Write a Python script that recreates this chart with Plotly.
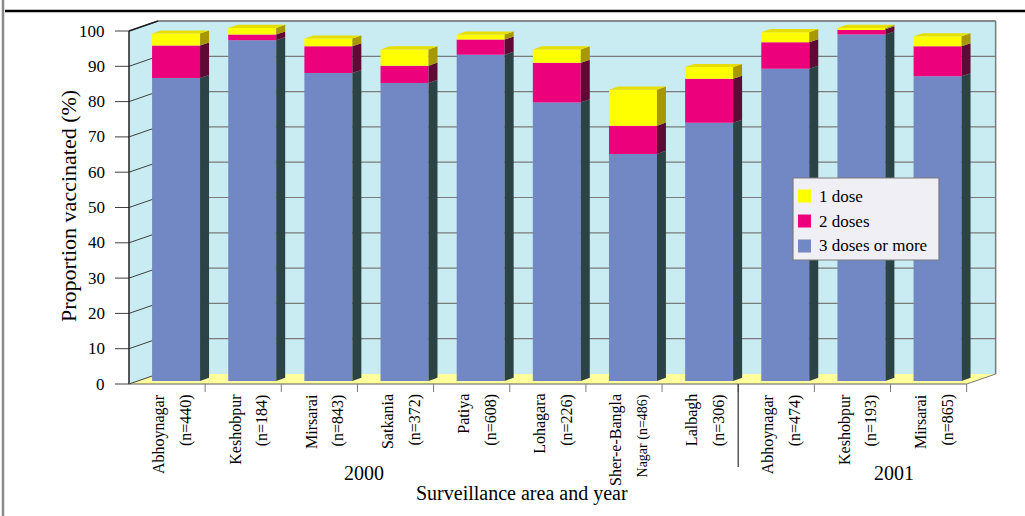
import plotly.graph_objects as go

# ---- data -------------------------------------------------------------
area_names = ["Abhoynagar", "Keshobpur", "Mirsarai", "Satkania", "Patiya", "Lohagara",
              "Sher-e-Bangla", "Lalbagh", "Abhoynagar", "Keshobpur", "Mirsarai"]
area_sizes = ["(n=440)", "(n=184)", "(n=843)", "(n=372)", "(n=608)", "(n=226)",
              "Nagar (n=486)", "(n=306)", "(n=474)", "(n=193)", "(n=865)"]
years = ["2000", "2001"]
year_counts = [8, 3]

dose3 = [85.8, 96.5, 87.2, 84.4, 92.4, 78.9, 64.3, 73.1, 88.4, 98.1, 86.3]
dose2 = [9.2, 1.6, 7.6, 4.9, 4.3, 11.2, 8.0, 12.5, 7.5, 1.5, 8.5]
dose1 = [3.4, 1.9, 2.2, 4.6, 1.4, 3.8, 10.2, 3.3, 2.9, 0.4, 2.8]

series_names = ["1 dose", "2 doses", "3 doses or more"]
y_ticks = list(range(0, 101, 10))

# ---- styling ------------------------------------------------------------
FONT = "Liberation Serif"
C_BLUE, C_BLUE_SIDE = "#7288C4", "#2C4346"
C_PINK, C_PINK_SIDE = "#EC007C", "#5E0A35"
C_YEL, C_YEL_SIDE, C_YEL_TOP = "#FFFF00", "#A89800", "#E6DE00"
C_WALL, C_FLOOR, C_GRID = "#C8ECF1", "#FFFF9C", "#7A7A7A"

W, H = 1025, 516
# pixel placement of the front plane of the 3-D box
PX_X0, SLOT_PX = 129, 76.15
PX_Y0, UNIT_PX = 384, 3.53


def px_x(px):
    return (px - PX_X0) / SLOT_PX


def px_y(py):
    return (PX_Y0 - py) / UNIT_PX


ncat = len(area_names)
DX, DY = 29 / SLOT_PX, 10 / UNIT_PX      # full depth of the box
F0, FB = 0.31, 0.31                       # bar front depth and bar thickness (fractions)
BAR_W = 0.63
YMAX = 100

centers = [k + 0.5 + F0 * DX for k in range(ncat)]
lift = F0 * DY
base3 = [lift] * ncat
base2 = [lift + a for a in dose3]
base1 = [lift + a + b for a, b in zip(dose3, dose2)]
tops = [b + c for b, c in zip(base1, dose1)]

fig = go.Figure()

# front faces of the stacked columns
for vals, bases, col, name in [(dose3, base3, C_BLUE, series_names[2]),
                               (dose2, base2, C_PINK, series_names[1]),
                               (dose1, base1, C_YEL, series_names[0])]:
    fig.add_trace(go.Bar(x=centers, y=vals, base=bases, width=BAR_W, name=name,
                         marker=dict(color=col, line=dict(width=0)), showlegend=False))

# right-hand side faces of each segment
sdx, sdy = FB * DX, FB * DY
for vals, bases, col in [(dose3, base3, C_BLUE_SIDE), (dose2, base2, C_PINK_SIDE),
                         (dose1, base1, C_YEL_SIDE)]:
    xs, ys = [], []
    for c, b, v in zip(centers, bases, vals):
        xr = c + BAR_W / 2
        xs += [xr, xr + sdx, xr + sdx, xr, xr, None]
        ys += [b, b + sdy, b + v + sdy, b + v, b, None]
    fig.add_trace(go.Scatter(x=xs, y=ys, mode="lines", fill="toself", fillcolor=col,
                             line=dict(width=0, color=col), hoverinfo="skip", showlegend=False))

# top faces of the columns
xs, ys = [], []
for c, t in zip(centers, tops):
    xl, xr = c - BAR_W / 2, c + BAR_W / 2
    xs += [xl, xl + sdx, xr + sdx, xr, xl, None]
    ys += [t, t + sdy, t + sdy, t, t, None]
fig.add_trace(go.Scatter(x=xs, y=ys, mode="lines", fill="toself", fillcolor=C_YEL_TOP,
                         line=dict(width=0, color=C_YEL_TOP), hoverinfo="skip", showlegend=False))

shapes = []


def poly(pts, fill, line_col=None, lw=0, layer="below"):
    path = "M " + " L ".join(f"{x},{y}" for x, y in pts) + " Z"
    shapes.append(dict(type="path", path=path, xref="x", yref="y", fillcolor=fill,
                       line=dict(color=line_col or fill, width=lw), layer=layer))


def seg(x0, y0, x1, y1, col, lw=1, xref="x", yref="y", layer="below"):
    shapes.append(dict(type="line", x0=x0, y0=y0, x1=x1, y1=y1, xref=xref, yref=yref,
                       line=dict(color=col, width=lw), layer=layer))


# walls and floor
poly([(DX, DY), (ncat + DX, DY), (ncat + DX, YMAX + DY), (DX, YMAX + DY)], C_WALL)
poly([(0, 0), (DX, DY), (DX, YMAX + DY), (0, YMAX)], C_WALL)
poly([(0, 0), (ncat, 0), (ncat + DX, DY), (DX, DY)], C_FLOOR)

# gridlines on the back wall, their continuation on the side wall, and axis ticks
for v in y_ticks[1:]:
    seg(DX, v + DY, ncat + DX, v + DY, C_GRID, 1.2)
for v in y_ticks:
    seg(0, v, DX, v + DY, "#404040", 1)
    seg(-0.184, v, 0, v, "#404040", 1)

# box outline
seg(DX, YMAX + DY, ncat + DX, YMAX + DY, C_GRID, 1.5)
seg(ncat + DX, DY, ncat + DX, YMAX + DY, C_GRID, 1.5)
seg(0, 0, 0, YMAX, "#202020", 1.5)
seg(0, YMAX, DX, YMAX + DY, "#202020", 1.5)
seg(0, 0, ncat, 0, "#606060", 1.2)
seg(ncat, 0, ncat + DX, DY, C_GRID, 1)

# category ticks below the floor, and the divider between the two years
for k in range(1, ncat + 1):
    seg(k, 0, k, px_y(392), C_GRID, 1)
seg(year_counts[0], 0, year_counts[0], px_y(467), "#303030", 1.2)

# page frame
seg(3 / W, 0, 3 / W, 1, "#8A8A8A", 2.5, xref="paper", yref="paper", layer="above")
seg(5 / W, 1 - 11 / H, 1, 1 - 11 / H, "#000000", 2.5, xref="paper", yref="paper", layer="above")

annotations = []
for v in y_ticks:
    annotations.append(dict(x=px_x(107), y=v, xref="x", yref="y", text=str(v),
                            xanchor="right", yanchor="middle", showarrow=False,
                            font=dict(family=FONT, size=17, color="black")))

# two rotated label lines per column: area name, then sample size
for k in range(ncat):
    cx = PX_X0 + SLOT_PX * (k + 0.5)
    for txt, off, is_size_line in [(area_names[k], -8, False), (area_sizes[k], 19, True)]:
        size = 14 if (is_size_line and len(txt) > 8) else 16
        annotations.append(dict(x=px_x(cx + off), y=px_y(392), xref="x", yref="y", text=txt,
                                textangle=-90, xanchor="center", yanchor="top", showarrow=False,
                                font=dict(family=FONT, size=size, color="black")))

for txt, cx in zip(years, [364, 894]):
    annotations.append(dict(x=px_x(cx), y=px_y(473), xref="x", yref="y", text=txt,
                            xanchor="center", yanchor="middle", showarrow=False,
                            font=dict(family=FONT, size=20, color="black")))

annotations.append(dict(x=px_x(522), y=px_y(493), xref="x", yref="y",
                        text="Surveillance area and year", xanchor="center", yanchor="middle",
                        showarrow=False, font=dict(family=FONT, size=20, color="black")))
annotations.append(dict(x=px_x(68), y=px_y(206), xref="x", yref="y",
                        text="Proportion vaccinated (%)", textangle=-90, xanchor="center",
                        yanchor="middle", showarrow=False,
                        font=dict(family=FONT, size=22, color="black")))

# legend box
LX0, LX1, LY0, LY1 = 793, 939, 178, 260
shapes.append(dict(type="rect", xref="paper", yref="paper", x0=LX0 / W, x1=LX1 / W,
                   y0=1 - LY1 / H, y1=1 - LY0 / H, fillcolor="#F0EFF6",
                   line=dict(color="#7A7A7A", width=1.2), layer="above"))
for i, (name, col) in enumerate(zip(series_names, [C_YEL, C_PINK, C_BLUE])):
    cy = 196 + 25 * i
    shapes.append(dict(type="rect", xref="paper", yref="paper", x0=798 / W, x1=811 / W,
                       y0=1 - (cy + 6.5) / H, y1=1 - (cy - 6.5) / H, fillcolor=col,
                       line=dict(width=0), layer="above"))
    annotations.append(dict(x=817 / W, y=1 - cy / H, xref="paper", yref="paper", text=name,
                            xanchor="left", yanchor="middle", showarrow=False,
                            font=dict(family=FONT, size=17, color="black")))

fig.update_layout(
    width=W, height=H, margin=dict(l=0, r=0, t=0, b=0),
    paper_bgcolor="white", plot_bgcolor="white",
    barmode="overlay", showlegend=False,
    xaxis=dict(range=[px_x(0), px_x(W)], visible=False, fixedrange=True),
    yaxis=dict(range=[px_y(H), px_y(0)], visible=False, fixedrange=True),
    shapes=shapes, annotations=annotations,
)

fig.write_html("out.html")
